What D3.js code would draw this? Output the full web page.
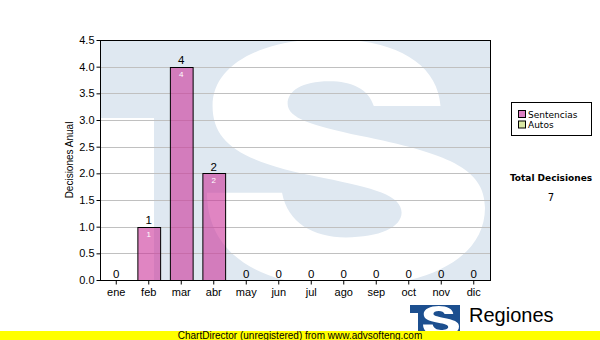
<!DOCTYPE html>
<html>
<head>
<meta charset="utf-8">
<script src="https://cdn.jsdelivr.net/npm/d3@7"></script>
<style>
  body { margin: 0; background: #fff; }
  svg { display: block; }
</style>
</head>
<body>
<div id="chart"></div>
<script>
const months = ['ene', 'feb', 'mar', 'abr', 'may', 'jun', 'jul', 'ago', 'sep', 'oct', 'nov', 'dic'];
const sentencias = [0, 1, 4, 2, 0, 0, 0, 0, 0, 0, 0, 0];
const autos = [0, 0, 0, 0, 0, 0, 0, 0, 0, 0, 0, 0];
const yTicks = [0, 0.5, 1, 1.5, 2, 2.5, 3, 3.5, 4, 4.5];
const seriesNames = ['Sentencias', 'Autos'];
const seriesColors = ['#dd80c4', '#d9e8a4'];
const totalLabel = 'Total Decisiones';

const W = 600, H = 340;
const plot = { left: 100, right: 490, top: 40, bottom: 280 };

const svg = d3.select('#chart').append('svg')
  .attr('width', W)
  .attr('height', H);

const x = d3.scaleBand().domain(months).range([plot.left, plot.right]).padding(0);
const y = d3.scaleLinear().domain([0, 4.5]).range([plot.bottom, plot.top]);

// fat "S" of the logo, drawn in a unit box and scaled
function sOutline(x0, y0, w, h) {
  const p = d3.path();
  const X = u => x0 + u * w, Y = v => y0 + v * h;
  const c = (a, b, c2, d, e, f) => p.bezierCurveTo(X(a), Y(b), X(c2), Y(d), X(e), Y(f));
  p.moveTo(X(0.84), Y(0.27));
  p.lineTo(X(0.60), Y(0.27));
  c(0.58, 0.20, 0.52, 0.17, 0.44, 0.17);
  c(0.34, 0.17, 0.29, 0.21, 0.29, 0.26);
  c(0.29, 0.32, 0.38, 0.35, 0.55, 0.39);
  c(0.86, 0.46, 1.00, 0.52, 1.00, 0.68);
  c(1.00, 0.88, 0.80, 1.00, 0.50, 1.00);
  c(0.18, 1.00, 0.00, 0.86, 0.00, 0.62);
  p.lineTo(X(0.27), Y(0.62));
  c(0.29, 0.74, 0.38, 0.80, 0.50, 0.80);
  c(0.62, 0.80, 0.70, 0.76, 0.70, 0.70);
  c(0.70, 0.63, 0.60, 0.60, 0.42, 0.56);
  c(0.14, 0.50, 0.02, 0.43, 0.02, 0.27);
  c(0.02, 0.10, 0.20, 0.00, 0.44, 0.00);
  c(0.68, 0.00, 0.83, 0.10, 0.84, 0.27);
  p.closePath();
  return p.toString();
}

// watermark logo behind the plot
svg.append('clipPath').attr('id', 'plotClip')
  .append('rect')
  .attr('x', plot.left).attr('y', plot.top)
  .attr('width', plot.right - plot.left).attr('height', plot.bottom - plot.top);

const wm = svg.append('g').attr('clip-path', 'url(#plotClip)');
wm.append('rect')
  .attr('x', plot.left).attr('y', plot.top)
  .attr('width', plot.right - plot.left).attr('height', plot.bottom - plot.top)
  .attr('fill', '#dfe8f1');
wm.append('rect')
  .attr('x', plot.left).attr('y', 118)
  .attr('width', 54).attr('height', plot.bottom - 118)
  .attr('fill', '#fff');
wm.append('path')
  .attr('d', sOutline(207, 39, 278, 248))
  .attr('fill', '#fff');

// grid
svg.append('g')
  .selectAll('line')
  .data(yTicks.filter(d => d > 0))
  .join('line')
  .attr('x1', plot.left).attr('x2', plot.right)
  .attr('y1', d => Math.round(y(d)) + 0.5).attr('y2', d => Math.round(y(d)) + 0.5)
  .attr('stroke', '#c0c0c0')
  .attr('stroke-width', 1);

// bars
const barW = x.bandwidth() * 0.7;
const barX = d => x(d) + (x.bandwidth() - barW) / 2;

svg.append('g')
  .selectAll('rect')
  .data(months.filter((m, i) => sentencias[i] > 0))
  .join('rect')
  .attr('x', d => barX(d) + 0.5)
  .attr('y', d => Math.round(y(sentencias[months.indexOf(d)])) + 0.5)
  .attr('width', barW)
  .attr('height', d => plot.bottom - Math.round(y(sentencias[months.indexOf(d)])))
  .attr('fill', 'rgba(204, 51, 153, 0.6)')
  .attr('stroke', '#000')
  .attr('stroke-width', 1);

// inner labels
svg.append('g')
  .selectAll('text')
  .data(months.filter((m, i) => sentencias[i] > 0))
  .join('text')
  .attr('x', d => x(d) + x.bandwidth() / 2)
  .attr('y', d => y(sentencias[months.indexOf(d)]) + 10)
  .attr('text-anchor', 'middle')
  .attr('font-family', 'Liberation Sans, Arial, sans-serif')
  .attr('font-size', 8)
  .attr('fill', '#fff')
  .text(d => sentencias[months.indexOf(d)]);

// total labels
svg.append('g')
  .selectAll('text')
  .data(months)
  .join('text')
  .attr('x', d => x(d) + x.bandwidth() / 2)
  .attr('y', (d, i) => y(sentencias[i] + autos[i]) - 2.5)
  .attr('text-anchor', 'middle')
  .attr('font-family', 'Liberation Sans, Arial, sans-serif')
  .attr('font-size', 11.5)
  .attr('fill', '#000')
  .text((d, i) => sentencias[i] + autos[i]);

// frame
svg.append('rect')
  .attr('x', plot.left + 0.5).attr('y', plot.top + 0.5)
  .attr('width', plot.right - plot.left).attr('height', plot.bottom - plot.top)
  .attr('fill', 'none')
  .attr('stroke', '#000')
  .attr('stroke-width', 1);

// axes
const yAxis = svg.append('g')
  .attr('transform', `translate(${plot.left + 0.5},0)`)
  .call(d3.axisLeft(y).tickValues(yTicks).tickFormat(d3.format('.1f')).tickSize(4).tickPadding(2));
const xAxis = svg.append('g')
  .attr('transform', `translate(0,${plot.bottom + 0.5})`)
  .call(d3.axisBottom(x).tickSize(4).tickPadding(4));

[yAxis, xAxis].forEach(a => {
  a.select('.domain').remove();
  a.selectAll('line').attr('stroke', '#000');
  a.selectAll('text')
    .attr('font-family', 'Liberation Sans, Arial, sans-serif')
    .attr('font-size', 11)
    .attr('fill', '#000');
});

svg.append('text')
  .attr('transform', 'translate(73,160) rotate(-90)')
  .attr('text-anchor', 'middle')
  .attr('font-family', 'Liberation Sans, Arial, sans-serif')
  .attr('font-size', 10)
  .attr('fill', '#000')
  .text('Decisiones Anual');

// legend
const legend = svg.append('g');
legend.append('rect')
  .attr('x', 511.5).attr('y', 102.5)
  .attr('width', 80).attr('height', 33)
  .attr('fill', '#fff')
  .attr('stroke', '#000');
const items = legend.selectAll('g.item')
  .data(seriesNames)
  .join('g')
  .attr('class', 'item')
  .attr('transform', (d, i) => `translate(518,${110 + i * 10.5})`);
items.append('rect')
  .attr('x', 0.5).attr('y', 0.5)
  .attr('width', 7).attr('height', 7)
  .attr('fill', (d, i) => seriesColors[i])
  .attr('stroke', '#000');
items.append('text')
  .attr('x', 10).attr('y', 7.5)
  .attr('font-family', 'DejaVu Sans, Tahoma, sans-serif')
  .attr('font-size', 9)
  .attr('fill', '#000')
  .text(d => d);

svg.append('text')
  .attr('x', 551).attr('y', 181)
  .attr('text-anchor', 'middle')
  .attr('font-family', 'DejaVu Sans, Tahoma, sans-serif')
  .attr('font-weight', 'bold')
  .attr('font-size', 9)
  .attr('fill', '#000')
  .text(totalLabel);
svg.append('text')
  .attr('x', 551).attr('y', 201)
  .attr('text-anchor', 'middle')
  .attr('font-family', 'DejaVu Sans, Tahoma, sans-serif')
  .attr('font-size', 10)
  .attr('fill', '#000')
  .text(d3.sum(sentencias) + d3.sum(autos));

// bottom logo
const logo = svg.append('g');
logo.append('rect')
  .attr('x', 410).attr('y', 305)
  .attr('width', 50).attr('height', 26)
  .attr('fill', '#1c4f8f');
logo.append('rect')
  .attr('x', 410).attr('y', 313)
  .attr('width', 8).attr('height', 18)
  .attr('fill', '#fff');
logo.append('path')
  .attr('d', sOutline(423, 306, 36, 30))
  .attr('fill', '#fff');
logo.append('text')
  .attr('x', 469).attr('y', 322)
  .attr('font-family', 'Liberation Sans, Arial, sans-serif')
  .attr('font-size', 20)
  .attr('fill', '#000')
  .text('Regiones');

// unregistered banner
svg.append('rect')
  .attr('x', 0).attr('y', 331)
  .attr('width', W).attr('height', 9)
  .attr('fill', '#ffff00');
svg.append('text')
  .attr('x', 300).attr('y', 339)
  .attr('text-anchor', 'middle')
  .attr('font-family', 'Liberation Sans, Arial, sans-serif')
  .attr('font-size', 10)
  .attr('fill', '#000')
  .text('ChartDirector (unregistered) from www.advsofteng.com');
</script>
</body>
</html>
